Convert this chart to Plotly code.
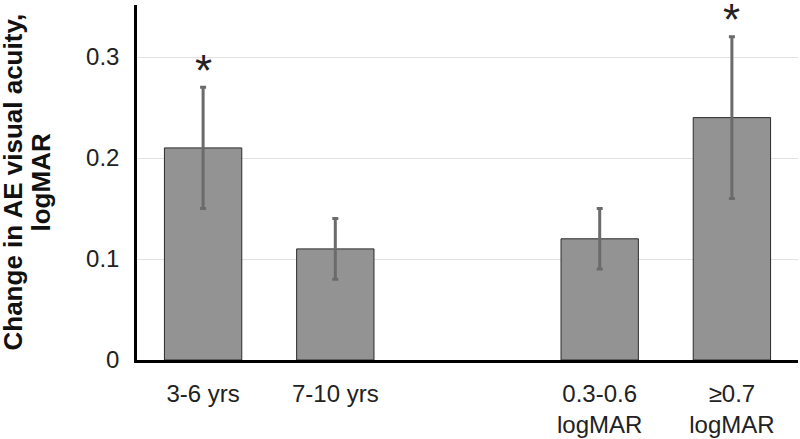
import plotly.graph_objects as go

categories = ["3-6 yrs", "7-10 yrs", "", "0.3-0.6<br>logMAR", "≥0.7<br>logMAR"]
values = [0.21, 0.11, None, 0.12, 0.24]
err_plus = [0.06, 0.03, None, 0.03, 0.08]
err_minus = [0.06, 0.03, None, 0.03, 0.08]
significant = [True, False, False, False, True]
y_ticks = [0, 0.1, 0.2, 0.3]
y_tick_labels = ["0", "0.1", "0.2", "0.3"]
title_lines = ["Change in AE visual acuity,", "logMAR"]

xpos = list(range(len(categories)))
FONT = "Liberation Sans, Arial"

fig = go.Figure()
fig.add_trace(go.Bar(
    x=xpos, y=values,
    marker=dict(color="#939393", line=dict(color="#2b2b2b", width=1)),
    error_y=dict(type="data", array=err_plus, arrayminus=err_minus, symmetric=False,
                 color="#6b6b6b", thickness=3, width=3),
    width=0.585,
    hoverinfo="skip",
))

for i, sig in enumerate(significant):
    if sig:
        fig.add_annotation(x=xpos[i], y=values[i] + err_plus[i], text="*", showarrow=False,
                           yanchor="middle", yshift=17,
                           font=dict(family=FONT, size=44, color="#222"))

for j, (line, px) in enumerate(zip(title_lines, [12, 40])):
    fig.add_annotation(
        xref="paper", yref="paper", x=(px - 137) / 661, y=0.5, xanchor="center", yanchor="middle",
        text="<b>" + line + "</b>", textangle=-90, showarrow=False,
        font=dict(family=FONT, size=26, color="#111"),
    )

fig.update_layout(
    width=800, height=439,
    margin=dict(l=137, r=2, t=5, b=79),
    paper_bgcolor="white", plot_bgcolor="white",
    showlegend=False,
    font=dict(family=FONT, size=24, color="#222"),
    xaxis=dict(
        range=[-0.5, 4.5], tickvals=xpos, ticktext=categories, showgrid=False,
        showline=True, linecolor="black", linewidth=2.5, ticks="", zeroline=False,
        tickfont=dict(size=24), automargin=False, ticklabelstandoff=10,
    ),
    yaxis=dict(
        range=[0, 0.3515], tickvals=y_ticks, ticktext=y_tick_labels,
        showgrid=True, gridcolor="#e2e2e2", gridwidth=1,
        showline=True, linecolor="black", linewidth=2.5, ticks="", zeroline=False,
        tickfont=dict(size=24), ticklabelstandoff=10, automargin=False,
    ),
)

fig.write_html("out.html", post_script="document.body.style.margin='0';",
               config={"displayModeBar": False})
